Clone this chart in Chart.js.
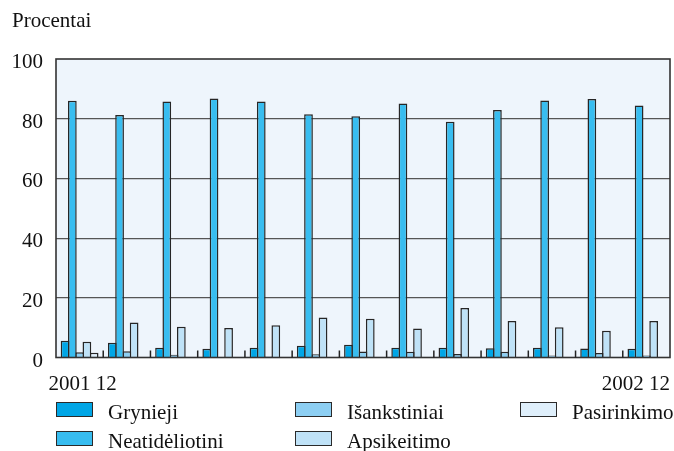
<!DOCTYPE html>
<html><head><meta charset="utf-8">
<script src="https://cdn.jsdelivr.net/npm/chart.js@4"></script>
<style>
html,body{margin:0;padding:0;background:#fff;}
#wrap{position:relative;width:674px;height:451px;overflow:hidden;}
#c{position:absolute;left:0;top:0;}
.ttl{position:absolute;left:12px;top:8px;font:21px "Liberation Serif",serif;color:#111;}
.lg{position:absolute;font:21px "Liberation Serif",serif;color:#111;white-space:nowrap;}
.lg span.b{position:absolute;left:0;top:0;width:35px;height:13px;border:1.4px solid #2a2a2a;}
.lg span.t{position:absolute;left:52px;top:-2px;}
</style></head>
<body><div id="wrap"><canvas id="c" width="674" height="451"></canvas><div class="ttl">Procentai</div></div>
<script>
const categories = ["2001 12","","","","","","","","","","","","2002 12"];
const seriesNames = ["Grynieji","Neatidėliotini","Išankstiniai","Apsikeitimo","Pasirinkimo"];
const grynieji       = [5.6, 4.9, 3.3, 2.9, 3.3, 3.9, 4.3, 3.3, 3.3, 3.1, 3.3, 3.0, 2.9];
const neatideliotini = [86.0, 81.2, 85.8, 86.8, 85.8, 81.5, 80.8, 85.1, 79.0, 82.9, 86.1, 86.6, 84.4];
const isankstiniai   = [1.8, 2.1, 0.9, 0.2, 0.3, 1.1, 2.0, 1.9, 1.2, 1.9, 0.7, 1.5, 0.7];
const apsikeitimo    = [5.3, 11.7, 10.3, 9.9, 10.8, 13.4, 13.0, 9.7, 16.6, 12.2, 10.1, 9.0, 12.2];
const pasirinkimo    = [1.6, 0, 0, 0, 0, 0, 0, 0, 0, 0, 0, 0, 0];
const yTicks = [0,20,40,60,80,100];
const colors = ["#00a6e6","#38bdf0","#8dcff3","#bfe2f7","#dfeffb"];
const allData = [grynieji, neatideliotini, isankstiniai, apsikeitimo, pasirinkimo];

const framePlugin = {
  id:'frame',
  beforeDraw(chart){
    const {ctx, chartArea:a} = chart;
    ctx.save(); ctx.fillStyle = '#eef5fc';
    ctx.fillRect(a.left, a.top, a.right-a.left, a.bottom-a.top); ctx.restore();
  },
  afterDatasetsDraw(chart){
    const {ctx, chartArea:a, scales} = chart;
    ctx.save();
    ctx.strokeStyle = '#333'; ctx.lineWidth = 1.6;
    ctx.strokeRect(a.left, a.top, a.right-a.left, a.bottom-a.top);
    const x = scales.x;
    ctx.lineWidth = 1.5; ctx.strokeStyle = '#222';
    for (let i=1;i<categories.length;i++){
      const px = (x.getPixelForValue(i-1)+x.getPixelForValue(i))/2;
      ctx.beginPath(); ctx.moveTo(px, a.bottom); ctx.lineTo(px, a.bottom-7); ctx.stroke();
    }
    ctx.fillStyle = '#111'; ctx.font = '21px "Liberation Serif", serif';
    ctx.textBaseline = 'alphabetic';
    categories.forEach((c,i)=>{
      if(!c) return;
      const last = i===categories.length-1;
      ctx.textAlign = last ? 'right' : 'center';
      ctx.fillText(c, last ? a.right : x.getPixelForValue(i)+3, a.bottom+32);
    });
    ctx.restore();
  }
};

new Chart(document.getElementById('c'), {
  type:'bar',
  data:{
    labels: categories,
    datasets: seriesNames.map((n,i)=>({
      label:n, data: allData[i], backgroundColor: colors[i],
      borderColor:'#262626', borderWidth:1.5, borderSkipped:'start',
      categoryPercentage:0.77, barPercentage:1.2
    }))
  },
  options:{
    responsive:false, animation:false,
    layout:{padding:{left:0,right:4,top:59,bottom:93.5}},
    plugins:{legend:{display:false}, tooltip:{enabled:false}},
    scales:{
      x:{
        grid:{display:false}, border:{display:false},
        ticks:{display:false},
        afterFit(s){ s.height = 0; }
      },
      y:{
        min:0, max:100,
        afterBuildTicks(s){ s.ticks = yTicks.map(v=>({value:v})); },
        afterFit(s){ s.width = 56; },
        grid:{color:(c)=> (c.tick && (c.tick.value===0||c.tick.value===100)) ? 'rgba(0,0,0,0)' : '#555', lineWidth:1.2, drawTicks:false},
        border:{display:false},
        ticks:{color:'#111', padding:13, labelOffset:3.5, font:{family:'"Liberation Serif", serif', size:21}}
      }
    }
  },
  plugins:[framePlugin]
});

const legendPos = [[56,402],[56,430.5],[295,402],[295,430.5],[520,402]];
const wrap = document.getElementById('wrap');
seriesNames.forEach((n,i)=>{
  const d = document.createElement('div'); d.className='lg';
  d.style.left = legendPos[i][0]+'px'; d.style.top = legendPos[i][1]+'px';
  d.innerHTML = '<span class="b" style="background:'+colors[i]+'"></span><span class="t">'+n+'</span>';
  wrap.appendChild(d);
});
</script></body></html>
